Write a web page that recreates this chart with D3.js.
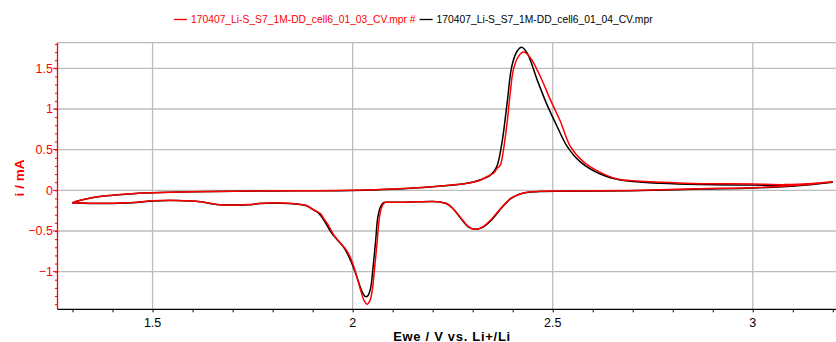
<!DOCTYPE html>
<html>
<head>
<meta charset="utf-8">
<script src="https://cdn.jsdelivr.net/npm/d3@7"></script>
<style>
  html, body { margin: 0; padding: 0; background: #fff; }
  svg { display: block; font-family: "Liberation Sans", Arial, sans-serif; }
</style>
</head>
<body>
<svg id="chart" width="836" height="342"></svg>
<script>
// Cyclic voltammograms, cycles 03 and 04 (potential in V, current in mA).
// Each loop starts at 3.2 V, scans down to 1.3 V and back up.
const seriesNames = [
  "170407_Li-S_S7_1M-DD_cell6_01_03_CV.mpr #",
  "170407_Li-S_S7_1M-DD_cell6_01_04_CV.mpr"
];
const seriesColors = ["#ff0000", "#000000"];

const cycle03E = [
  3.20, 3.12, 3.00, 2.87, 2.75, 2.62, 2.52, 2.47, 2.44, 2.425, 2.41, 2.395, 2.38, 2.365, 2.344, 2.325, 2.307,
  2.29, 2.269, 2.25, 2.236, 2.22, 2.20, 2.16, 2.12, 2.09, 2.08, 2.073, 2.067, 2.061, 2.055, 2.049,
  2.043, 2.036, 2.029, 2.020, 2.011, 2.003, 1.992, 1.982, 1.966, 1.953, 1.937, 1.928, 1.920, 1.903,
  1.886, 1.869, 1.84, 1.81, 1.77, 1.74, 1.71, 1.66, 1.62, 1.56, 1.50, 1.45, 1.40, 1.35, 1.32, 1.30,
  1.31, 1.352, 1.40, 1.435, 1.50, 1.60, 1.73, 1.87, 2.00, 2.10, 2.20, 2.286, 2.32, 2.336, 2.352,
  2.361, 2.369, 2.377, 2.386, 2.394, 2.402, 2.415, 2.427, 2.444, 2.469, 2.494, 2.519, 2.544, 2.577,
  2.619, 2.661, 2.711, 2.77, 2.87, 3.00, 3.08, 3.15, 3.20
];
const cycle03I = [
  0.106, 0.065, 0.033, 0.020, 0.004, -0.006, -0.008, -0.012, -0.022, -0.035, -0.060, -0.100, -0.170, -0.250, -0.370, -0.450, -0.480,
  -0.450, -0.330, -0.220, -0.165, -0.145, -0.137, -0.142, -0.148, -0.146, -0.150, -0.200, -0.330, -0.650, -0.950, -1.230,
  -1.360, -1.400, -1.360, -1.230, -1.070, -0.940, -0.800, -0.720, -0.630, -0.550, -0.410, -0.350, -0.290, -0.240,
  -0.190, -0.173, -0.160, -0.153, -0.160, -0.175, -0.180, -0.173, -0.140, -0.124, -0.128, -0.150, -0.158, -0.160, -0.155, -0.153,
  -0.135, -0.087, -0.060, -0.046, -0.030, -0.017, -0.009, -0.005, 0.000, 0.015, 0.045, 0.086, 0.127, 0.170, 0.210,
  0.270, 0.310, 0.500, 0.830, 1.200, 1.490, 1.650, 1.700, 1.630, 1.400, 1.115, 0.850, 0.540, 0.350,
  0.220, 0.140, 0.115, 0.100, 0.082, 0.078, 0.070, 0.085, 0.106
];

const cycle04E = [
  3.20, 3.12, 3.00, 2.87, 2.75, 2.62, 2.52, 2.47, 2.44, 2.425, 2.41, 2.395, 2.38, 2.365, 2.344, 2.325, 2.306,
  2.289, 2.268, 2.25, 2.235, 2.22, 2.20, 2.16, 2.12, 2.09, 2.078, 2.070, 2.063, 2.057, 2.051, 2.045,
  2.039, 2.033, 2.026, 2.017, 2.008, 1.998, 1.986, 1.976, 1.962, 1.948, 1.931, 1.923, 1.915, 1.900,
  1.885, 1.869, 1.84, 1.81, 1.77, 1.74, 1.71, 1.66, 1.62, 1.56, 1.50, 1.45, 1.40, 1.35, 1.32, 1.30,
  1.31, 1.352, 1.40, 1.435, 1.50, 1.60, 1.73, 1.87, 2.00, 2.10, 2.20, 2.286, 2.32, 2.345, 2.360,
  2.373, 2.386, 2.398, 2.411, 2.422, 2.436, 2.461, 2.486, 2.511, 2.536, 2.569, 2.619, 2.669, 2.77,
  2.87, 3.00, 3.08, 3.15, 3.20
];
const cycle04I = [
  0.100, 0.060, 0.028, 0.015, 0.000, -0.008, -0.010, -0.014, -0.024, -0.037, -0.062, -0.102, -0.175, -0.260, -0.380, -0.455, -0.480,
  -0.450, -0.330, -0.220, -0.165, -0.145, -0.137, -0.142, -0.148, -0.146, -0.150, -0.200, -0.330, -0.650, -0.950, -1.200,
  -1.290, -1.310, -1.270, -1.160, -1.030, -0.900, -0.770, -0.690, -0.610, -0.530, -0.390, -0.330, -0.280, -0.235,
  -0.190, -0.175, -0.162, -0.155, -0.162, -0.178, -0.182, -0.175, -0.142, -0.126, -0.131, -0.153, -0.161, -0.162, -0.156, -0.153,
  -0.135, -0.088, -0.061, -0.047, -0.031, -0.018, -0.010, -0.006, -0.001, 0.014, 0.044, 0.086, 0.130, 0.190, 0.290,
  0.580, 1.070, 1.530, 1.710, 1.760, 1.690, 1.360, 1.050, 0.785, 0.540, 0.350, 0.200, 0.127, 0.086,
  0.070, 0.065, 0.060, 0.080, 0.100
];

const xMajorTicks = [1.5, 2, 2.5, 3];
const yMajorTicks = [-1, -0.5, 0, 0.5, 1, 1.5];

const svg = d3.select("#chart");
const plot = { left: 57.5, right: 836, top: 42.7, bottom: 309.3 };

const x = d3.scaleLinear().domain([1.2624, 3.208]).range([plot.left, plot.right]);
const y = d3.scaleLinear().domain([-1.463, 1.815]).range([plot.bottom, plot.top]);

const xMinor = d3.range(13, 33).map(d => d / 10);
const yMinor = d3.range(-14, 19).map(d => d / 10);

// grid
const grid = svg.append("g").attr("stroke", "#bdbdbd").attr("stroke-width", 1.3);
grid.selectAll("line.h").data(yMajorTicks).join("line")
  .attr("x1", plot.left).attr("x2", plot.right)
  .attr("y1", d => y(d)).attr("y2", d => y(d));
grid.selectAll("line.v").data(xMajorTicks).join("line")
  .attr("x1", d => x(d)).attr("x2", d => x(d))
  .attr("y1", plot.top).attr("y2", plot.bottom);
grid.append("line")
  .attr("x1", plot.left).attr("x2", plot.right)
  .attr("y1", plot.top).attr("y2", plot.top);

// curves
svg.append("clipPath").attr("id", "clip").append("rect")
  .attr("x", plot.left).attr("y", plot.top)
  .attr("width", plot.right - plot.left).attr("height", plot.bottom - plot.top);

const line = d3.line()
  .x(d => x(d[0])).y(d => y(d[1]))
  .curve(d3.curveCatmullRom.alpha(0.5));

const curves = [
  { E: cycle04E, I: cycle04I, color: seriesColors[1] },
  { E: cycle03E, I: cycle03I, color: seriesColors[0] }
];
const curveG = svg.append("g").attr("clip-path", "url(#clip)");
curves.forEach(c => {
  curveG.append("path")
    .attr("d", line(c.E.map((e, i) => [e, c.I[i]])))
    .attr("fill", "none")
    .attr("stroke", c.color)
    .attr("stroke-width", 1.5)
    .attr("stroke-linejoin", "round");
});

// x axis
const xAxisG = svg.append("g").attr("transform", `translate(0,${plot.bottom})`);
xAxisG.call(d3.axisBottom(x).tickValues(xMinor).tickSize(3).tickFormat(""));
xAxisG.select(".domain").remove();
xAxisG.selectAll(".tick line").attr("stroke", "#000").attr("stroke-width", 1);
xAxisG.append("line")
  .attr("x1", plot.left).attr("x2", plot.right)
  .attr("y1", 0).attr("y2", 0)
  .attr("stroke", "#000").attr("stroke-width", 1.3);
xAxisG.selectAll("text.lbl").data(xMajorTicks).join("text")
  .attr("class", "lbl")
  .attr("x", d => x(d)).attr("y", 17.7)
  .attr("text-anchor", "middle")
  .attr("font-size", 12.5).attr("fill", "#000")
  .text(d => d3.format("")(d));

// y axis
const yAxisG = svg.append("g").attr("transform", `translate(${plot.left},0)`);
yAxisG.call(d3.axisLeft(y).tickValues(yMinor).tickSize(2.5).tickFormat(""));
yAxisG.select(".domain").remove();
yAxisG.selectAll(".tick line").attr("stroke", "#ff0000").attr("stroke-width", 1);
yAxisG.selectAll("line.major").data(yMajorTicks).join("line")
  .attr("class", "major")
  .attr("x1", -4.5).attr("x2", 0)
  .attr("y1", d => y(d)).attr("y2", d => y(d))
  .attr("stroke", "#ff0000").attr("stroke-width", 1);
yAxisG.append("line")
  .attr("x1", 0).attr("x2", 0)
  .attr("y1", plot.top).attr("y2", plot.bottom)
  .attr("stroke", "#ff0000").attr("stroke-width", 1.3);
yAxisG.selectAll("text.lbl").data(yMajorTicks).join("text")
  .attr("class", "lbl")
  .attr("x", -4.5).attr("y", d => y(d))
  .attr("dy", "0.36em")
  .attr("text-anchor", "end")
  .attr("font-size", 12.5).attr("fill", "#ff0000")
  .text(d => d3.format("")(d));

// axis titles
svg.append("text")
  .attr("x", 452).attr("y", 340.5)
  .attr("text-anchor", "middle")
  .attr("font-size", 13).attr("font-weight", "bold")
  .attr("letter-spacing", 0.7)
  .attr("fill", "#000")
  .text("Ewe / V vs. Li+/Li");

svg.append("text")
  .attr("transform", "translate(24,178) rotate(-90)")
  .attr("text-anchor", "middle")
  .attr("font-size", 13.5).attr("font-weight", "bold")
  .attr("fill", "#ff0000")
  .text("i / mA");

// legend
const legend = svg.append("g").attr("transform", "translate(0,19.5)");
let lx = 174;
seriesNames.forEach((name, i) => {
  legend.append("line")
    .attr("x1", lx).attr("x2", lx + 13)
    .attr("y1", 0).attr("y2", 0)
    .attr("stroke", seriesColors[i]).attr("stroke-width", 1.3);
  const t = legend.append("text")
    .attr("x", lx + 17).attr("y", 3.7)
    .attr("font-size", 10.3).attr("fill", seriesColors[i])
    .text(name);
  lx = lx + 17 + t.node().getComputedTextLength() + 4;
});
</script>
</body>
</html>
